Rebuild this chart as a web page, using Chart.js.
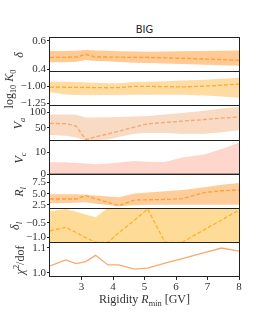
<!DOCTYPE html>
<html>
<head>
<meta charset="utf-8">
<script src="https://cdn.jsdelivr.net/npm/chart.js@4.4.1/dist/chart.umd.min.js"></script>
<style>
  html, body { margin: 0; padding: 0; background: #fff; }
  #wrap { position: relative; width: 266px; height: 319px; overflow: hidden; }
  #wrap canvas { position: absolute; left: 0; }
  #title { position: absolute; left: 50px; width: 189px; top: 24px; line-height: 12px;
           text-align: center; font: 10px "DejaVu Sans"; color: #222; }
</style>
</head>
<body>
<div id="wrap">
  <div id="title">BIG</div>
</div>
<script>
// Rigidity grid (GV), shared by every panel
const rigidity = [2.0, 2.5, 2.83, 3.13, 3.45, 3.84, 4.18, 4.68, 5.1, 5.65, 6.2, 6.9, 7.45, 8.0];
const xTicks = [3, 4, 5, 6, 7, 8];

// delta
const deltaMid = [0.485, 0.485, 0.486, 0.506, 0.487, 0.487, 0.486, 0.484, 0.484, 0.481, 0.478, 0.473, 0.469, 0.464];
const deltaHi  = [0.528, 0.528, 0.530, 0.535, 0.532, 0.530, 0.527, 0.525, 0.524, 0.525, 0.527, 0.529, 0.531, 0.533];
const deltaLo  = [0.450, 0.450, 0.455, 0.466, 0.460, 0.458, 0.452, 0.447, 0.445, 0.442, 0.438, 0.434, 0.430, 0.426];

// log10 K0
const logKMid = [-1.012, -1.015, -1.017, -1.018, -1.020, -1.022, -1.020, -1.002, -1.003, -1.005, -1.010, -1.000, -0.985, -0.968];
const logKHi  = [-0.934, -0.936, -0.940, -0.945, -0.950, -0.956, -0.958, -0.940, -0.935, -0.928, -0.918, -0.905, -0.890, -0.876];
const logKLo  = [-1.089, -1.120, -1.129, -1.130, -1.130, -1.130, -1.128, -1.125, -1.125, -1.125, -1.126, -1.135, -1.150, -1.168];

// Va
const vaMid = [64, 63, 55, 12, 20, 30, 39, 52, 62.5, 67, 71.3, 76.6, 80.9, 85];
const vaHi  = [93, 93, 92, 83, 83, 84, 85, 86, 88, 93, 98, 105, 112, 118];
const vaLo  = [26, 24, 18, 9, 9, 12, 20, 30, 34, 33, 30, 30, 35, 42];

// Vc
const vcMid = [0, 0, 0, 0, 0, 0, 0, 0, 0, 0, 0, 0, 0, 0];
const vcHi  = [5.5, 5.5, 5.2, 4.9, 4.6, 5.0, 5.4, 6.1, 5.8, 5.6, 7.7, 9.0, 11.5, 14.3];

// R_l
const rlMid = [3.83, 3.83, 3.83, 4.57, 3.9, 3.07, 2.35, 3.6, 3.66, 3.73, 3.9, 5.26, 5.67, 5.85];
const rlHi  = [4.9, 4.9, 4.88, 4.8, 4.6, 4.4, 4.2, 5.05, 5.3, 5.55, 5.85, 6.45, 7.0, 7.4];
const rlLo  = [2.9, 2.95, 3.0, 3.1, 2.8, 2.5, 2.2, 2.45, 2.55, 2.55, 2.55, 2.55, 2.55, 2.55];

// delta_l
const dlMid = [-0.78, -0.66, -0.84, -1.02, -1.185, -1.185, -0.85, -0.41, -0.015, -1.185, -1.185, -0.74, -0.40, -0.05];
const dlHi  = [-0.095, -0.014, -0.11, -0.21, -0.306, 0.03, 0.1, 0.1, 0.1, 0.1, 0.1, 0.1, 0.1, 0.1];
const dlLo  = [-1.3, -1.3, -1.3, -1.3, -1.3, -1.3, -1.3, -1.3, -1.3, -1.3, -1.3, -1.3, -1.3, -1.3];

// chi2 / dof
const chi2 = [1.028, 1.052, 1.037, 1.045, 1.070, 1.032, 1.032, 1.015, 1.019, 1.039, 1.057, 1.081, 1.099, 1.087];

// y tick values and their labels per panel
const deltaTicks = [0.4, 0.6];      const deltaTickLabels = ['0.4', '0.6'];
const logKTicks = [-1.25, -1.0];    const logKTickLabels = ['\u22121.25', '\u22121.00'];
const vaTicks = [50, 100];          const vaTickLabels = ['50', '100'];
const vcTicks = [0, 10];            const vcTickLabels = ['0', '10'];
const rlTicks = [2.5, 5.0, 7.5];    const rlTickLabels = ['2.5', '5.0', '7.5'];
const dlTicks = [-1.0, -0.5];       const dlTickLabels = ['\u22121.0', '\u22120.5'];
const chiTicks = [1.0, 1.1];        const chiTickLabels = ['1.0', '1.1'];

const TEXT = '#333';
const SERIF = '"Liberation Serif", "DejaVu Serif", serif';
const PAD = 8;

const pts = vals => rigidity.map((x, k) => ({ x: x, y: vals[k] }));

function band(mid, hi, lo, lineColor, fillColor) {
    const sets = [
        { data: pts(mid), borderColor: lineColor, borderWidth: 1.3, borderDash: [4, 2], fill: false },
        { data: pts(hi), borderWidth: 0, backgroundColor: fillColor, fill: lo ? '+1' : 'origin' }
    ];
    if (lo) sets.push({ data: pts(lo), borderWidth: 0, fill: false });
    return sets;
}

const panels = [
    { top: 38, bottom: 72, min: 0.383, max: 0.619, ticks: deltaTicks, tickLabels: deltaTickLabels,
      label: [{ t: '\u03b4', it: true }], labelX: 20,
      datasets: band(deltaMid, deltaHi, deltaLo, '#ff9e33', '#ffca93') },
    { top: 72, bottom: 106, min: -1.289, max: -0.792, ticks: logKTicks, tickLabels: logKTickLabels,
      label: [{ t: 'log' }, { t: '10', sub: true }, { t: ' ' }, { t: 'K', it: true }, { t: '0', sub: true }], labelX: 10,
      datasets: band(logKMid, logKHi, logKLo, '#ffaa22', '#ffdca3') },
    { top: 106, bottom: 141, min: 6.8, max: 120.5, ticks: vaTicks, tickLabels: vaTickLabels,
      label: [{ t: 'V', it: true }, { t: 'a', it: true, sub: true }], labelX: 19,
      datasets: band(vaMid, vaHi, vaLo, '#f3a872', '#f9dac3') },
    { top: 141, bottom: 175, min: -0.23, max: 15.1, ticks: vcTicks, tickLabels: vcTickLabels,
      label: [{ t: 'V', it: true }, { t: 'c', it: true, sub: true }], labelX: 20,
      datasets: [
          { data: pts(vcMid), borderColor: '#8e7d78', borderWidth: 2.5, fill: false },
          { data: pts(vcHi), borderWidth: 0, backgroundColor: '#fed6cc', fill: 'origin' }
      ] },
    { top: 175, bottom: 209, min: 1.61, max: 9.17, ticks: rlTicks, tickLabels: rlTickLabels,
      label: [{ t: 'R', it: true }, { t: 'l', it: true, sub: true }], labelX: 20,
      datasets: band(rlMid, rlHi, rlLo, '#ff9f3c', '#ffcd99') },
    { top: 209, bottom: 243, min: -1.21, max: -0.014, ticks: dlTicks, tickLabels: dlTickLabels,
      label: [{ t: '\u03b4', it: true }, { t: 'l', it: true, sub: true }], labelX: 16,
      datasets: band(dlMid, dlHi, dlLo, '#ffb22c', '#ffdb98') },
    { top: 243, bottom: 277, min: 0.984, max: 1.119, ticks: chiTicks, tickLabels: chiTickLabels,
      label: [{ t: '\u03c7', it: true }, { t: '2', sup: true }, { t: '/dof' }], labelX: 21,
      datasets: [{ data: pts(chi2), borderColor: '#f7aa70', borderWidth: 1.3, fill: false }] }
];

// rotated or flat text with sub/superscripts
function drawRich(ctx, parts, cx, cy, size, rotate) {
    ctx.save();
    ctx.translate(cx, cy);
    if (rotate) ctx.rotate(-Math.PI / 2);
    ctx.fillStyle = TEXT;
    ctx.textBaseline = 'middle';
    ctx.textAlign = 'left';
    const fontOf = q => (q.it ? 'italic ' : '') + ((q.sub || q.sup) ? size * 0.7 : size) + 'px ' + SERIF;
    let w = 0;
    parts.forEach(q => { ctx.font = fontOf(q); q.w = ctx.measureText(q.t).width; w += q.w; });
    let x = -w / 2;
    parts.forEach(q => {
        ctx.font = fontOf(q);
        const dy = q.sub ? size * 0.28 : q.sup ? -size * 0.32 : 0;
        ctx.fillText(q.t, x, dy);
        x += q.w;
    });
    ctx.restore();
}

const xLabel = [{ t: 'Rigidity ' }, { t: 'R', it: true }, { t: 'min', sub: true }, { t: ' [GV]' }];

const wrap = document.getElementById('wrap');

panels.forEach((p, i) => {
    const isLast = i === panels.length - 1;
    const top = p.top - PAD;
    const height = isLast ? 319 - top : (p.bottom - p.top) + 2 * PAD;
    const canvas = document.createElement('canvas');
    canvas.width = 266;
    canvas.height = height;
    canvas.style.top = top + 'px';
    canvas.style.width = '266px';
    canvas.style.height = height + 'px';
    wrap.appendChild(canvas);

    const framePlugin = {
        id: 'frame' + i,
        afterDraw(chart) {
            const a = chart.chartArea;
            const ctx = chart.ctx;
            const l = Math.round(a.left) - 0.5, r = Math.round(a.right) + 0.5;
            const t = Math.round(a.top) - 0.5, b = Math.round(a.bottom) - 0.5;
            ctx.save();
            ctx.strokeStyle = '#222';
            ctx.lineWidth = 1;
            ctx.strokeRect(l, t, r - l, b - t);
            ctx.restore();
            drawRich(ctx, p.label, p.labelX, (a.top + a.bottom) / 2, 12, true);
            if (isLast) drawRich(ctx, xLabel, 144.5, 300 - top, 12, false);
        }
    };

    new Chart(canvas, {
        type: 'line',
        data: { datasets: p.datasets },
        options: {
            responsive: false,
            animation: false,
            devicePixelRatio: 1,
            layout: { padding: { left: 0, right: 27, top: PAD, bottom: isLast ? 0 : PAD } },
            plugins: { legend: { display: false }, tooltip: { enabled: false } },
            elements: { point: { radius: 0 }, line: { tension: 0 } },
            scales: {
                x: {
                    type: 'linear', min: 2, max: 8,
                    display: isLast,
                    afterFit: s => { s.height = isLast ? 319 - 277 : 0; },
                    afterBuildTicks: s => { s.ticks = xTicks.map(v => ({ value: v })); },
                    grid: { drawOnChartArea: false, drawTicks: true, tickLength: 3, color: '#222' },
                    border: { display: false },
                    ticks: { color: TEXT, padding: 1, maxRotation: 0, autoSkip: false,
                             font: { family: SERIF, size: 11 } }
                },
                y: {
                    type: 'linear', min: p.min, max: p.max,
                    afterFit: s => { s.width = 50; },
                    afterBuildTicks: s => { s.ticks = p.ticks.map(v => ({ value: v })); },
                    grid: { drawOnChartArea: false, drawTicks: true, tickLength: 3, color: '#222' },
                    border: { display: false },
                    ticks: { color: TEXT, padding: 1, autoSkip: false,
                             font: { family: SERIF, size: 11 },
                             callback: (v, idx) => p.tickLabels[idx] }
                }
            }
        },
        plugins: [framePlugin]
    });
});
</script>
</body>
</html>
